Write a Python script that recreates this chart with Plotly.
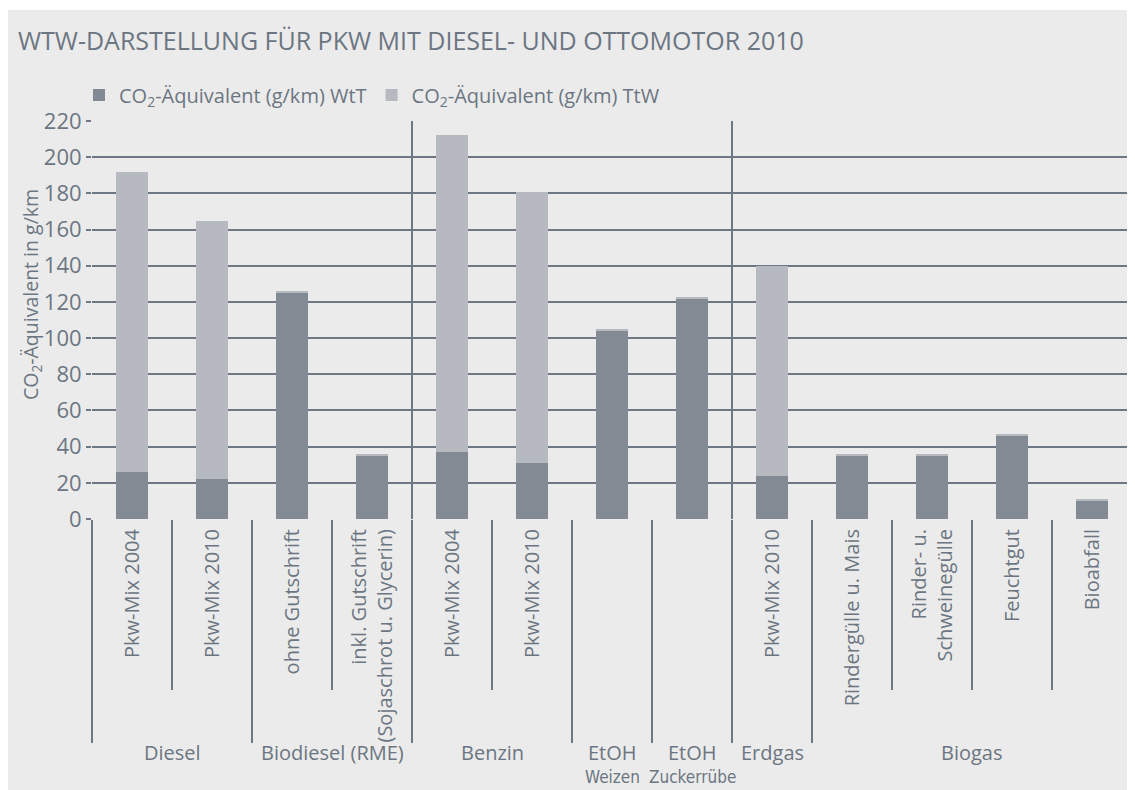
import plotly.graph_objects as go

# ---------------- data ----------------
sub_labels = [
    "Pkw-Mix 2004", "Pkw-Mix 2010",
    "ohne Gutschrift", "inkl. Gutschrift<br>(Sojaschrot u. Glycerin)",
    "Pkw-Mix 2004", "Pkw-Mix 2010",
    "", "",
    "Pkw-Mix 2010",
    "Rindergülle u. Mais", "Rinder- u.<br>Schweinegülle", "Feuchtgut", "Bioabfall",
]
wtt = [26, 22, 125, 35, 37, 31, 104, 122, 24, 35, 35, 46, 10]
ttw = [166, 143, 1, 1, 175, 150, 0.8, 0.8, 116, 1, 1, 1, 1]

groups = ["Diesel", "Biodiesel (RME)", "Benzin", "EtOH", "EtOH", "Erdgas", "Biogas"]
group_sub = ["", "", "", "Weizen", "Zuckerrübe", "", ""]
group_members = [[0, 1], [2, 3], [4, 5], [6], [7], [8], [9, 10, 11, 12]]

y_ticks = [0, 20, 40, 60, 80, 100, 120, 140, 160, 180, 200, 220]

series_names = ["CO<sub>2</sub>-Äquivalent (g/km) WtT", "CO<sub>2</sub>-Äquivalent (g/km) TtW"]
title_text = "WTW-DARSTELLUNG FÜR PKW MIT DIESEL- UND OTTOMOTOR 2010"
ytitle_text = "CO<sub>2</sub>-Äquivalent in g/km"

# ---------------- style ----------------
BG = "#ebebeb"
DARK = "#828a93"
LIGHT = "#b6b9c0"
TXT = "#6c7682"
LINE = "#6e7884"
FONT = "Open Sans"
NARROW = "DejaVu Sans Condensed, Liberation Sans Narrow, Roboto"

OFF = 8                      # page body margin around the figure
W, H = 1135 - OFF, 790 - OFF
# target page pixels of the plot area
P_LEFT, P_RIGHT, P_TOP, P_BOTTOM = 92, 1132, 121, 519
L, T = P_LEFT - OFF, P_TOP - OFF
R = W - (P_RIGHT - OFF)
B = H - (P_BOTTOM - OFF)
PW, PH = W - L - R, H - T - B

def px_x(px):
    return (px - P_LEFT) / PW

def px_y(py):
    return (P_BOTTOM - py) / PH

n = len(wtt)
pos = list(range(n))
label_pos = [p for p, s in zip(pos, sub_labels) if s]
label_txt = [s for s in sub_labels if s]
bounds_all = [i - 0.5 for i in range(n + 1)]
group_bounds = sorted({group_members[0][0] - 0.5} | {g[-1] + 0.5 for g in group_members})
section_bounds = [3.5, 7.5]
major_bounds = [b for b in group_bounds if b not in section_bounds]
minor_bounds = [b for b in bounds_all if b not in group_bounds]

fig = go.Figure()
fig.add_trace(go.Bar(x=pos, y=wtt, name=series_names[0], marker=dict(color=DARK, line=dict(width=0)),
                     width=0.41))
fig.add_trace(go.Bar(x=pos, y=ttw, name=series_names[1], marker=dict(color=LIGHT, line=dict(width=0)),
                     width=0.41))
# invisible helpers so the overlay axes are drawn
for ax in ["x2", "x3"]:
    fig.add_trace(go.Scatter(x=pos, y=[0] * n, xaxis=ax, yaxis="y", mode="markers",
                             marker=dict(opacity=0), showlegend=False, hoverinfo="skip"))

xr = [-0.5, n - 0.5]
fig.update_layout(
    width=W, height=H,
    margin=dict(l=L, r=R, t=T, b=B, pad=0),
    paper_bgcolor=BG, plot_bgcolor=BG,
    barmode="stack",
    font=dict(family=FONT, color=TXT, size=18),
    title=dict(text=title_text, x=(18 - OFF) / W, xanchor="left", xref="container",
               y=1 - (41 - OFF) / H, yanchor="middle", yref="container",
               font=dict(family=FONT, size=25, color=TXT)),
    legend=dict(orientation="h", x=px_x(79), xanchor="left", y=px_y(95), yanchor="middle",
                font=dict(size=20, color=TXT), bgcolor="rgba(0,0,0,0)", traceorder="normal",
                itemclick=False),
    xaxis=dict(range=xr, tickmode="array", tickvals=label_pos, ticktext=label_txt, tickangle=-90,
               ticks="", showgrid=False, zeroline=False, showline=False, ticklabelstandoff=5,
               tickfont=dict(size=20, color=TXT)),
    xaxis2=dict(range=xr, overlaying="x", anchor="y", side="bottom", tickmode="array",
                tickvals=major_bounds, ticks="outside", ticklen=223, tickwidth=2, tickcolor=LINE,
                showticklabels=False, showgrid=False, zeroline=False, showline=False,
                minor=dict(tickmode="array", tickvals=minor_bounds, ticks="outside", ticklen=170,
                           tickwidth=2, tickcolor=LINE, showgrid=False)),
    xaxis3=dict(range=xr, overlaying="x", anchor="y", side="bottom", tickmode="array",
                tickvals=section_bounds, ticks="outside", ticklen=223, tickwidth=2, tickcolor=LINE,
                showticklabels=False, showgrid=True, gridcolor=LINE, gridwidth=2,
                zeroline=False, showline=False),
    yaxis=dict(range=[0, 220], tickmode="array", tickvals=y_ticks, ticks="outside", ticklen=5,
               tickwidth=2, tickcolor=LINE, showgrid=True, gridcolor=LINE, gridwidth=2,
               zeroline=False, showline=False, tickfont=dict(size=22, color=TXT)),
    hovermode=False,
)

annotations = []
for name, sub, members in zip(groups, group_sub, group_members):
    cx = sum(members) / len(members)
    annotations.append(dict(x=cx, xref="x", y=px_y(752), yref="paper", text=name,
                            showarrow=False, xanchor="center", yanchor="middle",
                            font=dict(size=20, color=TXT)))
    if sub:
        annotations.append(dict(x=cx, xref="x", y=px_y(777), yref="paper", text=sub,
                                showarrow=False, xanchor="center", yanchor="middle",
                                font=dict(size=17, color=TXT, family=NARROW)))
annotations.append(dict(x=px_x(31), xref="paper", y=px_y(295), yref="paper", text=ytitle_text,
                        textangle=-90, showarrow=False, xanchor="center", yanchor="middle",
                        font=dict(size=19.5, color=TXT)))
fig.update_layout(annotations=annotations)

# white top margin (page body margin provides the rest)
fig.update_layout(shapes=[
    dict(type="rect", xref="paper", yref="paper", x0=px_x(0), x1=px_x(1135), y0=px_y(10), y1=px_y(OFF),
         fillcolor="white", line=dict(width=0), layer="above"),
])

fig.write_html("out.html")
